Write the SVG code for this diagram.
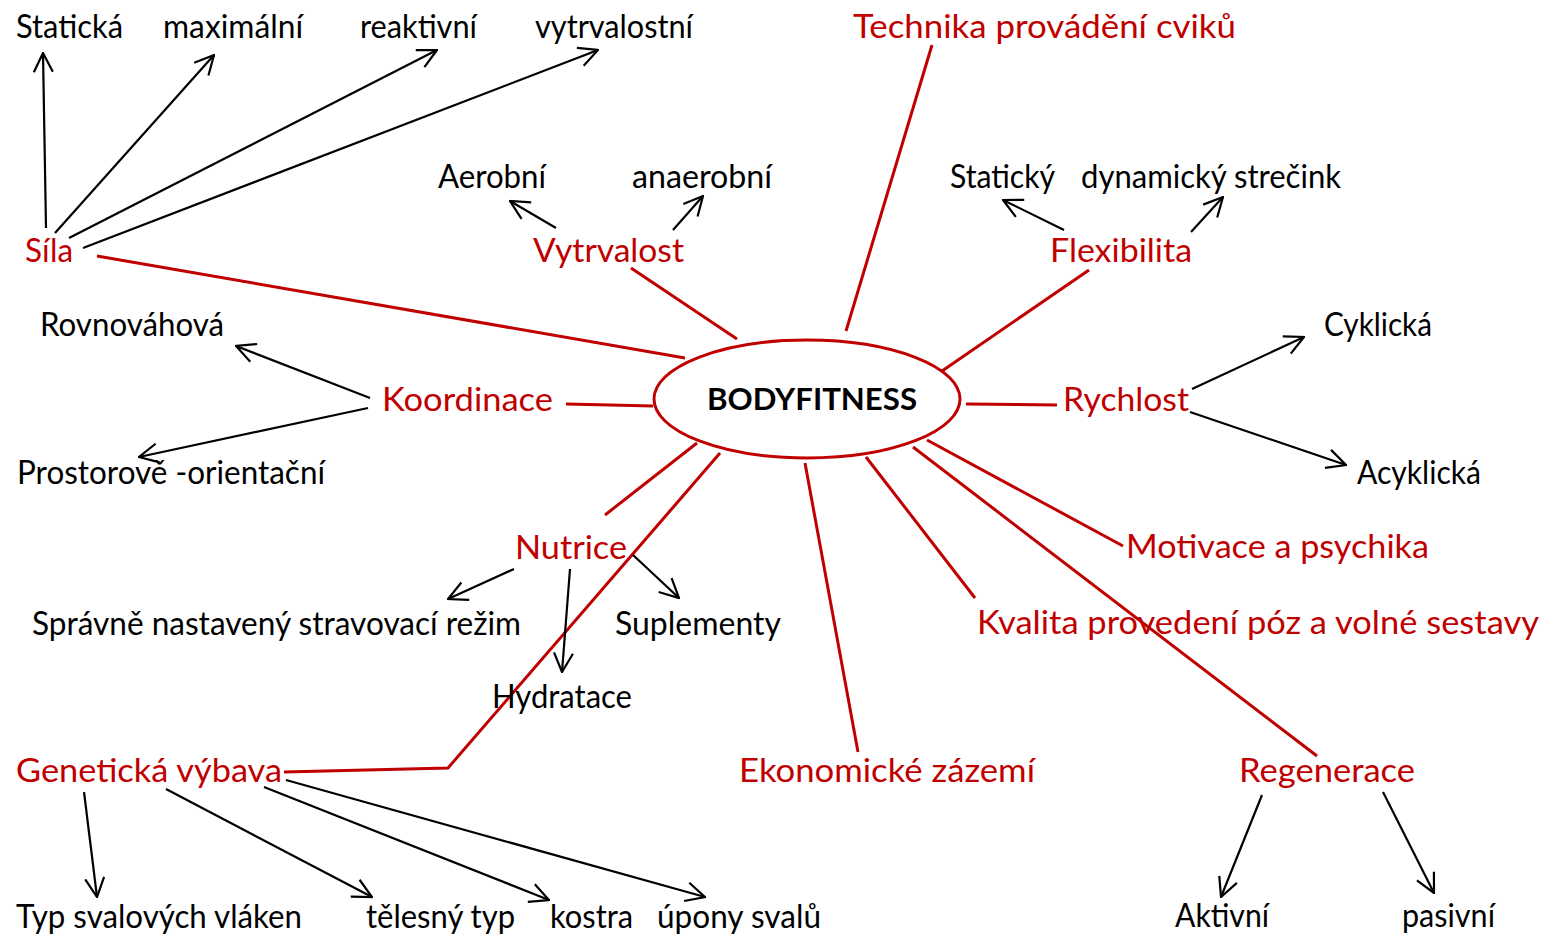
<svg xmlns="http://www.w3.org/2000/svg" width="1559" height="936" viewBox="0 0 1559 936">
<style>
text{font-family:Lato,"Open Sans","Liberation Sans",sans-serif;font-size:32px;}
.r{fill:#c00000;}
.k{fill:#000;}
.b{font-weight:bold;font-size:30px;}
.rl{stroke:#c00000;stroke-width:3;fill:none;}
.al{stroke:#000;stroke-width:2.2;fill:none;marker-end:url(#ah);}
</style>
<defs>
<marker id="ah" viewBox="0 0 22 22" refX="21" refY="11" markerWidth="22" markerHeight="22" markerUnits="userSpaceOnUse" orient="auto">
<path d="M2,1.5 L21,11 L2,20.5" fill="none" stroke="#000" stroke-width="2.2"/>
</marker>
</defs>
<rect width="1559" height="936" fill="#fff"/>
<g id="connectors">
<line class="rl" x1="97" y1="256" x2="685" y2="358"/>
<line class="rl" x1="631" y1="268" x2="737" y2="339"/>
<line class="rl" x1="932" y1="45" x2="846" y2="331"/>
<line class="rl" x1="1089" y1="270" x2="942" y2="371"/>
<line class="rl" x1="566" y1="404" x2="653" y2="406"/>
<line class="rl" x1="966" y1="404" x2="1057" y2="405"/>
<line class="rl" x1="605" y1="515" x2="697" y2="443"/>
<polyline class="rl" points="284,772 448,768 720,453"/>
<line class="rl" x1="805" y1="463" x2="858" y2="752"/>
<line class="rl" x1="866" y1="457" x2="975" y2="598"/>
<line class="rl" x1="913" y1="447" x2="1317" y2="756"/>
<line class="rl" x1="927" y1="440" x2="1123" y2="546"/>
<line class="al" x1="46" y1="228" x2="43" y2="53"/>
<line class="al" x1="55" y1="233" x2="214" y2="55"/>
<line class="al" x1="69" y1="238" x2="437" y2="50"/>
<line class="al" x1="83" y1="248" x2="598" y2="50"/>
<line class="al" x1="556" y1="228" x2="510" y2="201"/>
<line class="al" x1="673" y1="230" x2="703" y2="196"/>
<line class="al" x1="1064" y1="230" x2="1003" y2="200"/>
<line class="al" x1="1191" y1="232" x2="1223" y2="197"/>
<line class="al" x1="1192" y1="389" x2="1304" y2="337"/>
<line class="al" x1="1190" y1="412" x2="1346" y2="465"/>
<line class="al" x1="370" y1="398" x2="236" y2="346"/>
<line class="al" x1="368" y1="408" x2="139" y2="457"/>
<line class="al" x1="514" y1="569" x2="448" y2="599"/>
<line class="al" x1="570" y1="569" x2="562" y2="672"/>
<line class="al" x1="633" y1="555" x2="679" y2="598"/>
<line class="al" x1="84" y1="792" x2="97" y2="897"/>
<line class="al" x1="166" y1="789" x2="372" y2="897"/>
<line class="al" x1="264" y1="787" x2="549" y2="900"/>
<line class="al" x1="286" y1="780" x2="705" y2="897"/>
<line class="al" x1="1262" y1="795" x2="1221" y2="897"/>
<line class="al" x1="1383" y1="792" x2="1434" y2="893"/>
</g>
<g id="center">
<ellipse cx="807" cy="399" rx="153" ry="59" fill="#fff" stroke="#c00000" stroke-width="3"/>
<text class="k b" x="707" y="410" textLength="210" lengthAdjust="spacingAndGlyphs">BODYFITNESS</text>
</g>
<g id="sila">
<text class="r" x="25" y="262" textLength="48" lengthAdjust="spacingAndGlyphs">Síla</text>
<text class="k" x="16" y="38" textLength="107" lengthAdjust="spacingAndGlyphs">Statická</text>
<text class="k" x="163" y="38" textLength="140" lengthAdjust="spacingAndGlyphs">maximální</text>
<text class="k" x="360" y="38" textLength="117" lengthAdjust="spacingAndGlyphs">reaktivní</text>
<text class="k" x="535" y="38" textLength="158" lengthAdjust="spacingAndGlyphs">vytrvalostní</text>
</g>
<g id="technika">
<text class="r" x="853" y="38" textLength="383" lengthAdjust="spacingAndGlyphs">Technika provádění cviků</text>
</g>
<g id="vytrvalost">
<text class="r" x="533" y="262" textLength="151" lengthAdjust="spacingAndGlyphs">Vytrvalost</text>
<text class="k" x="438" y="188" textLength="108" lengthAdjust="spacingAndGlyphs">Aerobní</text>
<text class="k" x="632" y="188" textLength="140" lengthAdjust="spacingAndGlyphs">anaerobní</text>
</g>
<g id="flexibilita">
<text class="r" x="1050" y="262" textLength="142" lengthAdjust="spacingAndGlyphs">Flexibilita</text>
<text class="k" x="950" y="188" textLength="105" lengthAdjust="spacingAndGlyphs">Statický</text>
<text class="k" x="1081" y="188" textLength="260" lengthAdjust="spacingAndGlyphs">dynamický strečink</text>
</g>
<g id="rychlost">
<text class="r" x="1063" y="411" textLength="126" lengthAdjust="spacingAndGlyphs">Rychlost</text>
<text class="k" x="1324" y="336" textLength="108" lengthAdjust="spacingAndGlyphs">Cyklická</text>
<text class="k" x="1357" y="484" textLength="124" lengthAdjust="spacingAndGlyphs">Acyklická</text>
</g>
<g id="koordinace">
<text class="r" x="382" y="411" textLength="171" lengthAdjust="spacingAndGlyphs">Koordinace</text>
<text class="k" x="40" y="336" textLength="184" lengthAdjust="spacingAndGlyphs">Rovnováhová</text>
<text class="k" x="17" y="484" textLength="308" lengthAdjust="spacingAndGlyphs">Prostorově -orientační</text>
</g>
<g id="nutrice">
<text class="r" x="515" y="559" textLength="112" lengthAdjust="spacingAndGlyphs">Nutrice</text>
<text class="k" x="32" y="635" textLength="489" lengthAdjust="spacingAndGlyphs">Správně nastavený stravovací režim</text>
<text class="k" x="615" y="635" textLength="166" lengthAdjust="spacingAndGlyphs">Suplementy</text>
<text class="k" x="492" y="708" textLength="140" lengthAdjust="spacingAndGlyphs">Hydratace</text>
</g>
<g id="motivace">
<text class="r" x="1126" y="558" textLength="303" lengthAdjust="spacingAndGlyphs">Motivace a psychika</text>
</g>
<g id="kvalita">
<text class="r" x="977" y="634" textLength="562" lengthAdjust="spacingAndGlyphs">Kvalita provedení póz a volné sestavy</text>
</g>
<g id="geneticka">
<text class="r" x="16" y="782" textLength="266" lengthAdjust="spacingAndGlyphs">Genetická výbava</text>
<text class="k" x="16" y="928" textLength="286" lengthAdjust="spacingAndGlyphs">Typ svalových vláken</text>
<text class="k" x="366" y="928" textLength="149" lengthAdjust="spacingAndGlyphs">tělesný typ</text>
<text class="k" x="550" y="928" textLength="83" lengthAdjust="spacingAndGlyphs">kostra</text>
<text class="k" x="657" y="928" textLength="164" lengthAdjust="spacingAndGlyphs">úpony svalů</text>
</g>
<g id="ekonomicke">
<text class="r" x="739" y="782" textLength="296" lengthAdjust="spacingAndGlyphs">Ekonomické zázemí</text>
</g>
<g id="regenerace">
<text class="r" x="1239" y="782" textLength="176" lengthAdjust="spacingAndGlyphs">Regenerace</text>
<text class="k" x="1175" y="927" textLength="94" lengthAdjust="spacingAndGlyphs">Aktivní</text>
<text class="k" x="1402" y="927" textLength="93" lengthAdjust="spacingAndGlyphs">pasivní</text>
</g>
</svg>
